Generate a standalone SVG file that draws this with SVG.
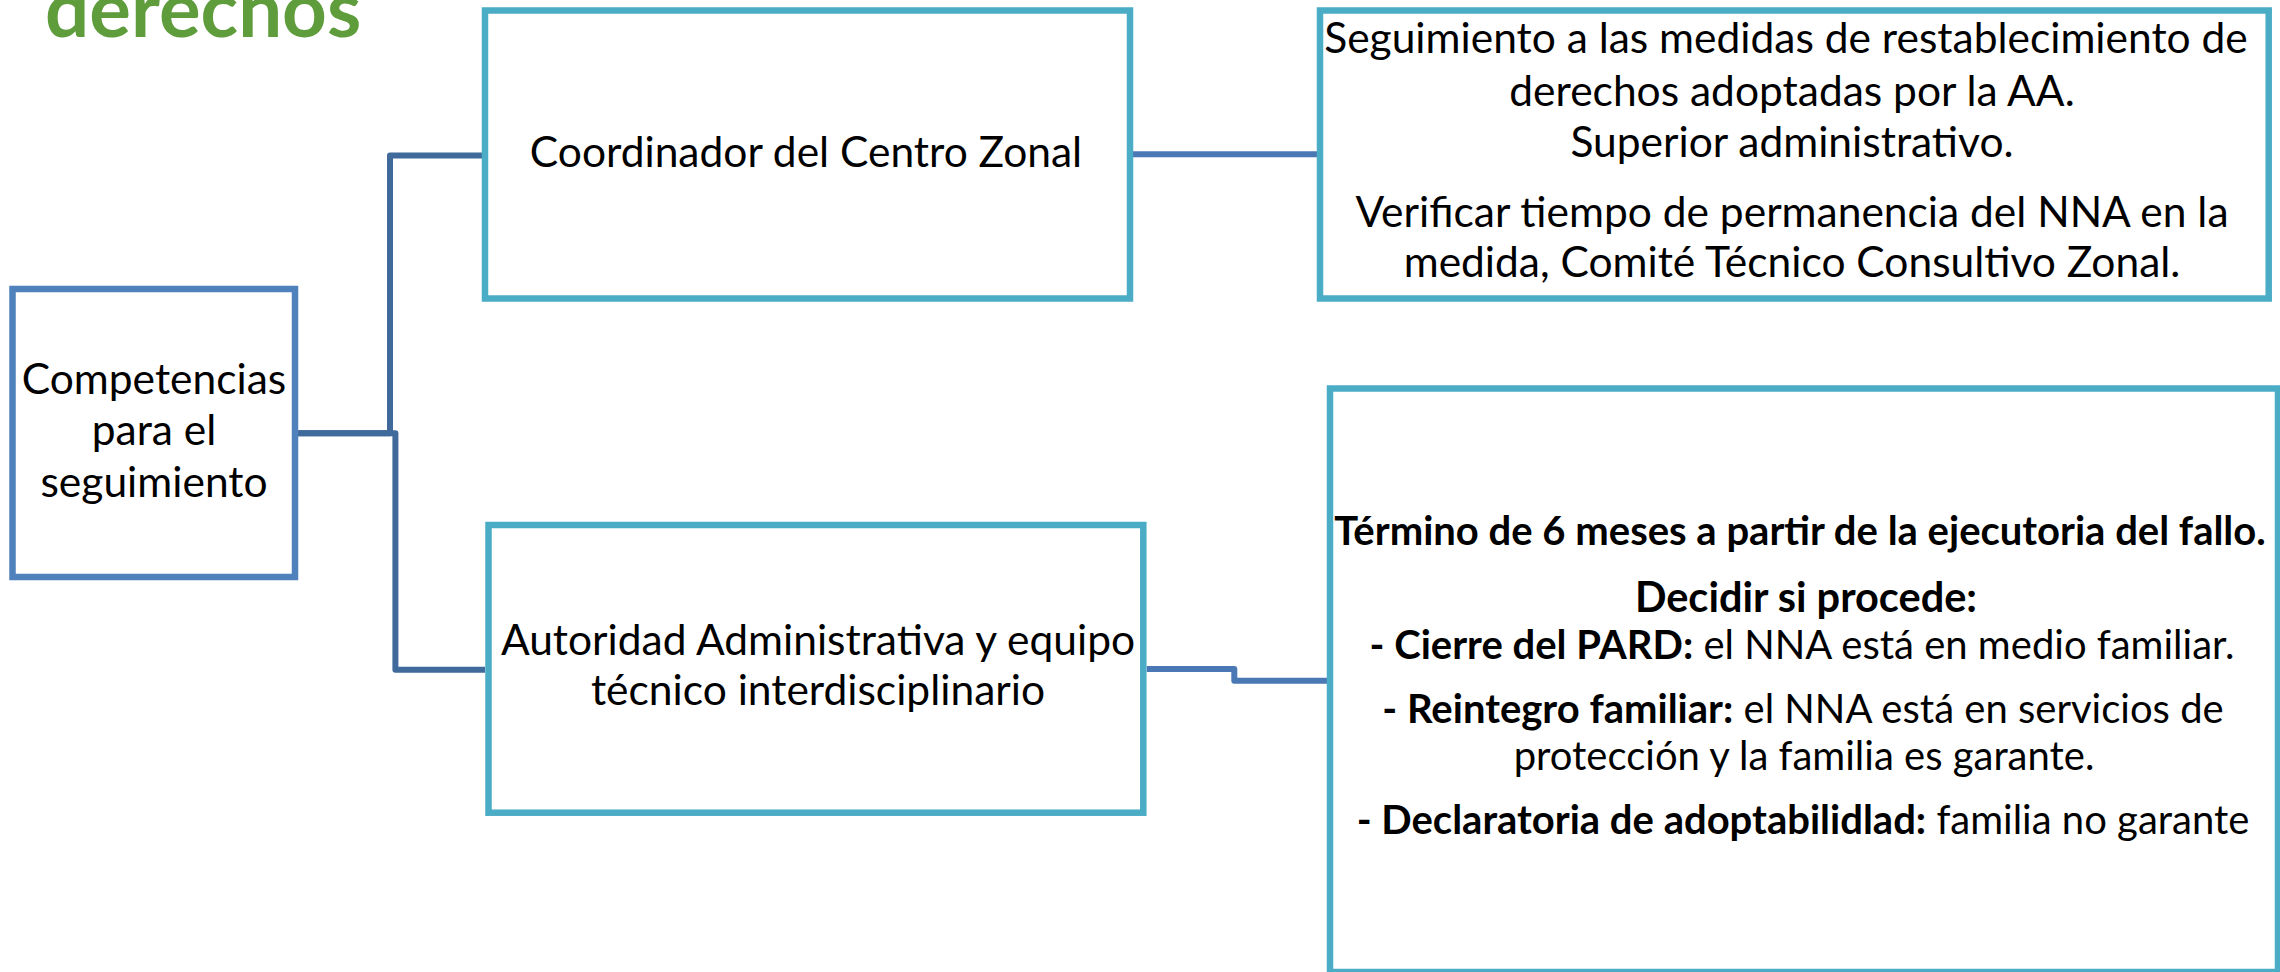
<svg xmlns="http://www.w3.org/2000/svg" width="2280" height="972" viewBox="0 0 2280 972">
<style>
.t{font-family:Lato,"Liberation Sans",sans-serif;fill:#000;text-anchor:middle}
.b{font-weight:700}
.box{fill:#fff;stroke:#4BACC6;stroke-width:6.5}
.root{fill:#fff;stroke:#4F81BD;stroke-width:6.5}
.c1{fill:none;stroke:#3F6A9B;stroke-width:6;stroke-linejoin:round}
.c2{fill:none;stroke:#4A78B4;stroke-width:6;stroke-linejoin:round}
</style>
<rect width="2280" height="972" fill="#fff"/>
<text x="45" y="37" font-family="Lato,'Liberation Sans',sans-serif" font-weight="700" font-size="78" fill="#5E9C3C">derechos</text>
<g id="connectors">
<path class="c1" d="M298,433.3 H390 V155.5 H482"/>
<path class="c1" d="M298,433.3 H395.4 V669.7 H485"/>
<path class="c2" d="M1133,154.3 H1317"/>
<path class="c2" d="M1146.7,669 H1234.3 V680.7 H1327"/>
</g>
<g id="competencias">
<rect class="root" x="12.5" y="289" width="282.5" height="288"/>
<text class="t" font-size="42.5"><tspan x="154" y="394">Competencias</tspan><tspan x="154" y="445">para el</tspan><tspan x="154" y="497">seguimiento</tspan></text>
</g>
<g id="coordinador">
<rect class="box" x="485" y="10.5" width="645" height="288"/>
<text class="t" font-size="42.5" x="806" y="167">Coordinador del Centro Zonal</text>
</g>
<g id="seguimiento">
<rect class="box" x="1320" y="10.5" width="948.7" height="288"/>
<text class="t" font-size="42.5"><tspan x="1786" y="53">Seguimiento a las medidas de restablecimiento de</tspan><tspan x="1792" y="106">derechos adoptadas por la AA.</tspan><tspan x="1792" y="157">Superior administrativo.</tspan><tspan x="1792" y="227">Verificar tiempo de permanencia del NNA en la</tspan><tspan x="1792" y="277">medida, Comité Técnico Consultivo Zonal.</tspan></text>
</g>
<g id="autoridad">
<rect class="box" x="488.5" y="525" width="654.8" height="287.7"/>
<text class="t" font-size="42.5"><tspan x="818" y="655">Autoridad Administrativa y equipo</tspan><tspan x="818" y="705">técnico interdisciplinario</tspan></text>
</g>
<g id="termino">
<rect class="box" x="1330" y="388.5" width="948" height="583.5"/>
<text class="t" font-size="40"><tspan x="1800" y="545" class="b">Término de 6 meses a partir de la ejecutoria del fallo.</tspan><tspan x="1806" y="612" class="b" font-size="41.5">Decidir si procede:</tspan><tspan x="1802" y="659"><tspan class="b">- Cierre del PARD:</tspan> el NNA está en medio familiar.</tspan><tspan x="1803" y="723"><tspan class="b">- Reintegro familiar:</tspan> el NNA está en servicios de</tspan><tspan x="1804" y="770">protección y la familia es garante.</tspan><tspan x="1803" y="834"><tspan class="b">- Declaratoria de adoptabilidlad:</tspan>  familia no garante</tspan></text>
</g>
</svg>
